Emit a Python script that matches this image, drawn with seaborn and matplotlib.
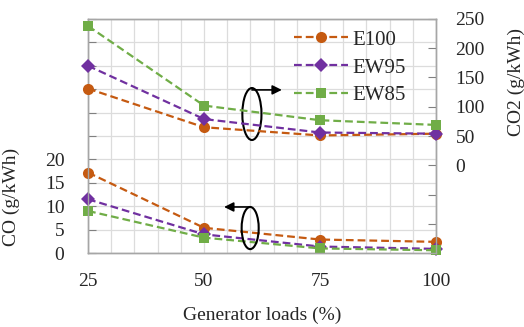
import numpy as np
import pandas as pd
import matplotlib
matplotlib.use('Agg')
import matplotlib.pyplot as plt
import seaborn as sns
from matplotlib.patches import Ellipse
from matplotlib.ticker import FixedLocator, MultipleLocator

loads = [25, 50, 75, 100]
fuels = ['E100', 'EW95', 'EW85']
co_e100 = [17.2, 5.4, 2.9, 2.4]
co_ew95 = [11.5, 4.0, 1.4, 0.9]
co_ew85 = [9.0, 3.3, 1.0, 0.6]
co2_e100 = [131, 65, 51, 54]
co2_ew95 = [170, 79, 56, 54]
co2_ew85 = [238, 102, 77, 69]

colors = {'E100': '#C55A11', 'EW95': '#7030A0', 'EW85': '#70AD47'}
markers = {'E100': 'o', 'EW95': 'D', 'EW85': 's'}
msize = {'E100': 8, 'EW95': 7, 'EW85': 7}

co = pd.DataFrame({'load': loads * 3, 'fuel': np.repeat(fuels, 4),
                   'value': co_e100 + co_ew95 + co_ew85})
co2 = pd.DataFrame({'load': loads * 3, 'fuel': np.repeat(fuels, 4),
                    'value': co2_e100 + co2_ew95 + co2_ew85})

sns.set_style('white')
plt.rcParams['font.family'] = ['Liberation Serif', 'DejaVu Serif']
plt.rcParams['font.size'] = 14

fig = plt.figure(figsize=(5.24, 3.27), dpi=100)
ax = fig.add_axes([0.168, 0.226, 0.664, 0.716])
ax2 = ax.twinx()

for f in fuels:
    d = co[co['fuel'] == f]
    sns.lineplot(data=d, x='load', y='value', ax=ax, color=colors[f], marker=markers[f],
                 markersize=msize[f], markeredgewidth=0, linewidth=1.6, dashes=(3.5, 1.8),
                 clip_on=False, zorder=3)
    d2 = co2[co2['fuel'] == f]
    sns.lineplot(data=d2, x='load', y='value', ax=ax2, color=colors[f], marker=markers[f],
                 markersize=msize[f], markeredgewidth=0, linewidth=1.6, dashes=(3.5, 1.8),
                 clip_on=False, zorder=3, label=f)

ax.set_xlim(25, 100)
ax.set_ylim(0, 50)
ax2.set_ylim(-150, 250)
ax.set_xticks(loads)
ax.xaxis.set_minor_locator(MultipleLocator(5))
ax.yaxis.set_major_locator(FixedLocator(np.arange(0, 51, 5)))
ax.set_yticklabels([str(int(v)) if v <= 20 else '' for v in np.arange(0, 51, 5)])
ax2.yaxis.set_major_locator(FixedLocator(np.arange(-150, 251, 50)))
ax2.set_yticklabels([str(int(v)) if v >= 0 else '' for v in np.arange(-150, 251, 50)])

ax.grid(True, which='both', color='#DCDCDC', linewidth=0.9)
ax.set_axisbelow(True)
for a in (ax, ax2):
    for s in a.spines.values():
        s.set_color('#A6A6A6')
        s.set_linewidth(1.0)
ax.tick_params(axis='y', direction='in', length=6, color='#808080', pad=17, labelsize=14)
ax.tick_params(axis='x', which='both', length=0, pad=14, labelsize=14)
ax2.tick_params(axis='y', direction='in', length=6, color='#808080', pad=14, labelsize=14)

ax.set_xlabel('Generator loads (%)', fontsize=14, labelpad=12)
ax.set_ylabel('CO (g/kWh)', fontsize=14)
ax.yaxis.set_label_coords(-0.195, 0.24)
ax2.set_ylabel('CO2 (g/kWh)', fontsize=14)
ax2.yaxis.set_label_coords(1.205, 0.73)

leg = ax2.legend(loc='upper right', bbox_to_anchor=(0.955, 1.015), frameon=False, fontsize=15,
                 handlelength=2.6, handletextpad=0.2, labelspacing=0.4, borderaxespad=0.3)

ax2.add_patch(Ellipse((0.471, 0.594), 0.055, 0.222, transform=ax.transAxes,
                      fill=False, edgecolor='black', linewidth=1.5))
ax2.add_patch(Ellipse((0.466, 0.107), 0.049, 0.18, transform=ax.transAxes,
                      fill=False, edgecolor='black', linewidth=1.5))
ax2.annotate('', xy=(0.557, 0.697), xytext=(0.471, 0.697), xycoords=ax.transAxes,
             arrowprops=dict(arrowstyle='-|>', color='black', lw=1.2, mutation_scale=14,
                             shrinkA=0, shrinkB=0))
ax2.annotate('', xy=(0.391, 0.197), xytext=(0.466, 0.197), xycoords=ax.transAxes,
             arrowprops=dict(arrowstyle='-|>', color='black', lw=1.2, mutation_scale=14,
                             shrinkA=0, shrinkB=0))

plt.savefig('out.png', dpi=100)
